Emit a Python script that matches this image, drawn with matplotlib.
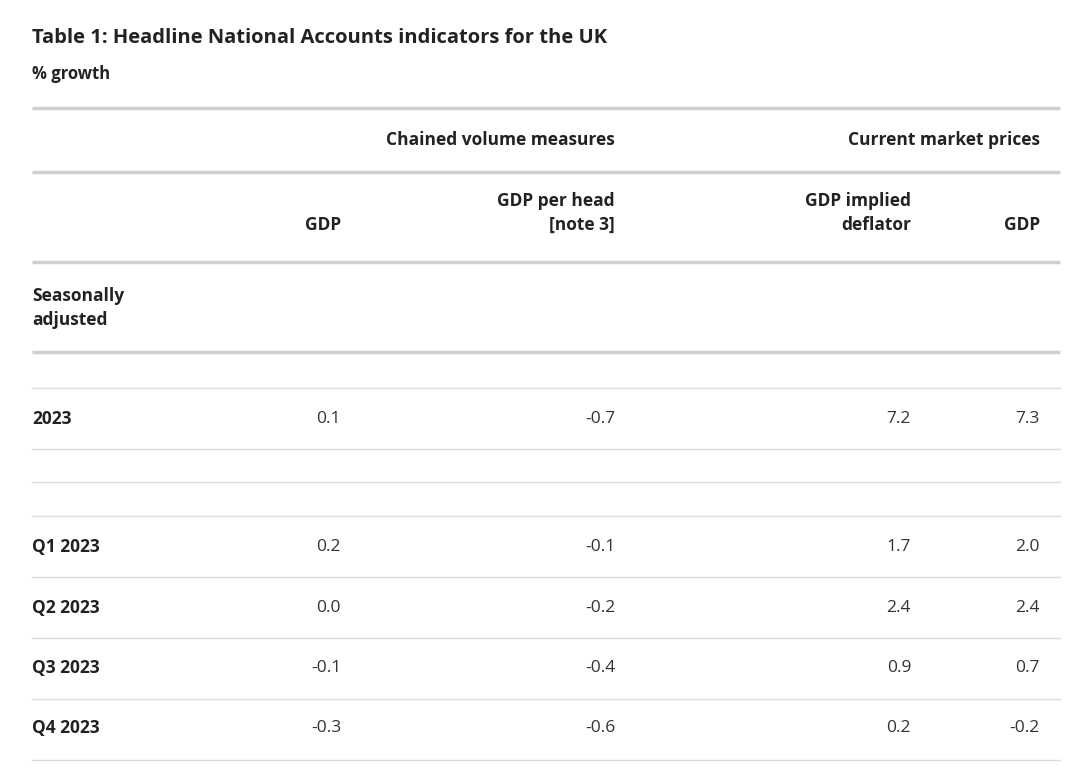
import matplotlib.pyplot as plt

title = "Table 1: Headline National Accounts indicators for the UK"
subtitle = "% growth"
groups = ["Chained volume measures", "Current market prices"]
columns = ["GDP", "GDP per head\n[note 3]", "GDP implied\ndeflator", "GDP"]
rows = ["2023", "Q1 2023", "Q2 2023", "Q3 2023", "Q4 2023"]
values = [
    ["0.1", "-0.7", "7.2", "7.3"],
    ["0.2", "-0.1", "1.7", "2.0"],
    ["0.0", "-0.2", "2.4", "2.4"],
    ["-0.1", "-0.4", "0.9", "0.7"],
    ["-0.3", "-0.6", "0.2", "-0.2"],
]

plt.rcParams['font.family'] = ['Open Sans', 'DejaVu Sans']
fig = plt.figure(figsize=(10.8, 7.72), dpi=100)
ax = fig.add_axes([0, 0, 1, 1])
ax.set_xlim(0, 1080)
ax.set_ylim(772, 0)
ax.axis('off')

dark = '#222222'
col_x = [341, 615, 911, 1040]
row_y = [419, 547, 608, 668, 728]
fs = 12.5

ax.text(32, 38, title, fontsize=14.5, fontweight='bold', color=dark, va='center')
ax.text(32, 74, subtitle, fontsize=12, fontweight='bold', color=dark, va='center')

for y in [108, 172, 262, 352]:
    ax.plot([32, 1060], [y, y], color='#d0d0d0', lw=2.5, solid_capstyle='butt')
for y in [388, 449, 482, 516, 577, 638, 699, 760]:
    ax.plot([32, 1060], [y, y], color='#dcdcdc', lw=1)

ax.text(615, 140, groups[0], fontsize=fs, fontweight='bold', color=dark, ha='right', va='center')
ax.text(1040, 140, groups[1], fontsize=fs, fontweight='bold', color=dark, ha='right', va='center')
for x, c in zip(col_x, columns):
    ax.text(x, 230, c, fontsize=fs, fontweight='bold', color=dark, ha='right', va='baseline',
            linespacing=1.45, multialignment='right')
ax.text(32, 308, "Seasonally\nadjusted", fontsize=fs, fontweight='bold', color=dark,
        va='center', linespacing=1.45)

for y, r, vals in zip(row_y, rows, values):
    ax.text(32, y, r, fontsize=fs, fontweight='bold', color=dark, va='center')
    for x, v in zip(col_x, vals):
        ax.text(x, y, v, fontsize=fs, color='#333333', ha='right', va='center')

fig.savefig('out.png', dpi=100, facecolor='white')
